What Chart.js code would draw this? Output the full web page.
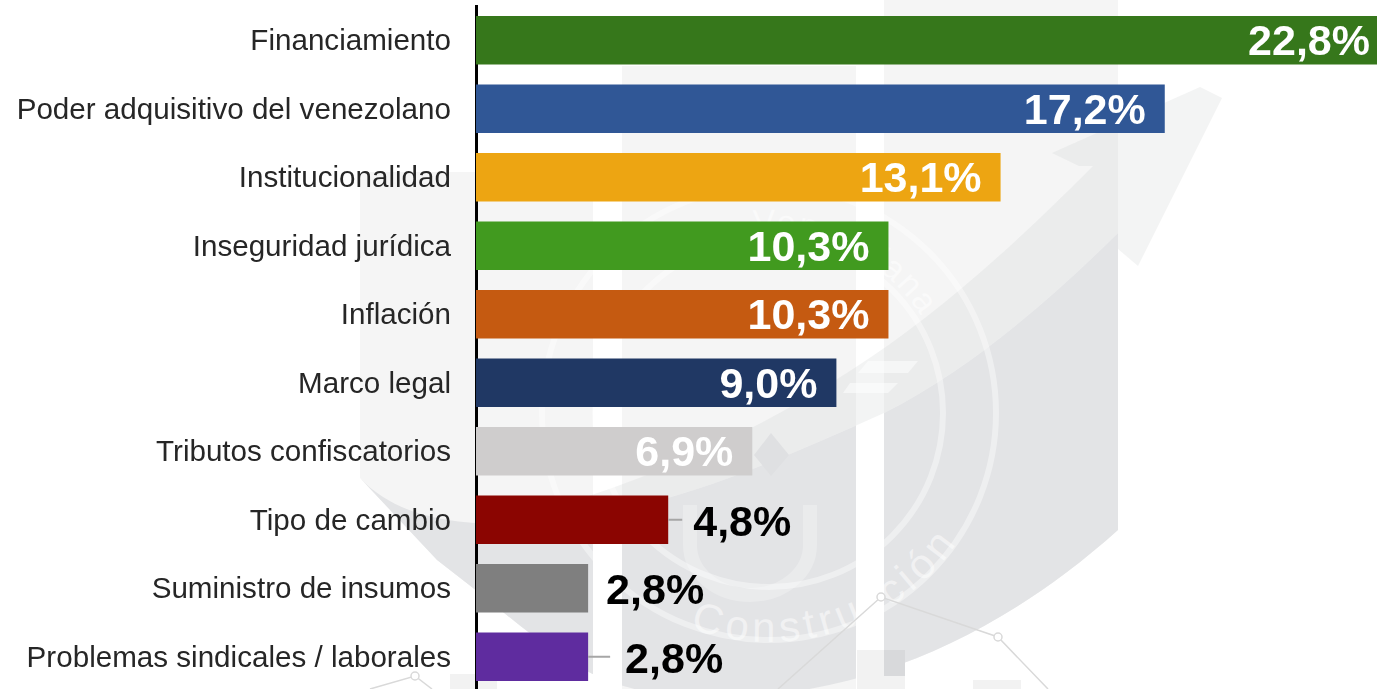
<!DOCTYPE html>
<html lang="es">
<head>
<meta charset="utf-8">
<title>Factores</title>
<script src="https://cdn.jsdelivr.net/npm/chart.js@4/dist/chart.umd.js"></script>
<style>
    html, body { margin: 0; background: #fff; overflow: hidden; }
    #wrap { position: relative; width: 1377px; height: 689px; overflow: hidden; }
    #mark { position: absolute; left: 0; top: 0; }
    #chart { position: absolute; left: 0; top: 0; }
</style>
</head>
<body>
<div id="wrap">
    <!-- watermark behind the chart -->
    <svg id="mark" width="1377" height="689" viewBox="0 0 1377 689">
        <defs>
            <clipPath id="cols">
                <rect x="360" y="172" width="233" height="517"/>
                <rect x="622" y="66" width="234" height="623"/>
                <rect x="884" y="0" width="234" height="689"/>
            </clipPath>
            <path id="arcTop" d="M 753 234 A 180 180 0 0 1 943 366" fill="none"/>
            <path id="arcBottom" d="M 690 628 A 229 229 0 0 0 975 512" fill="none"/>
        </defs>
        <g fill="#f5f5f5">
            <rect x="360" y="172" width="233" height="517"/>
            <rect x="622" y="66" width="234" height="623"/>
            <rect x="884" y="0" width="234" height="689"/>
        </g>
        <!-- white below the sweep, the columns stop there -->
        <path fill="#fff" d="M360 478 L437 560 L473 588 C520 625 570 670 620 685 L622 689 L360 689 Z"/>
        <path fill="#fff" d="M884 670 C960 645 1040 600 1118 530 L1118 689 L884 689 Z"/>
        <path fill="#c9cbce" fill-opacity="0.22" d="M1079 166 L1052 153 L1200 87 L1222 98 L1138 266 L1118 249 L1118 233 C1050 300 970 370 884 413 C790 455 700 495 600 515 L560 505 C660 475 760 430 853 369 C930 320 1010 250 1093 166 Z"/>
        <path fill="#e3e4e6" clip-path="url(#cols)" d="M360 478 C400 520 470 535 600 515 C700 495 790 455 884 413 C970 370 1050 300 1118 233 L1118 530 C1040 600 960 645 884 670 C810 695 700 710 620 685 C570 670 520 625 473 588 L437 560 Z"/>
        <rect x="450" y="674" width="47" height="15" fill="#f2f2f2"/>
        <rect x="857" y="650" width="48" height="39" fill="#f2f2f2"/>
        <rect x="884" y="650" width="21" height="26" fill="#d8d9db"/>
        <rect x="973" y="680" width="48" height="9" fill="#f2f2f2"/>
        <g fill="none" stroke="#fff" stroke-opacity="0.4">
            <circle cx="769" cy="413" r="227" stroke-width="6"/>
            <circle cx="769" cy="413" r="174" stroke-width="6"/>
        </g>
        <path d="M690 505 L690 545 A60 50 0 0 0 810 545 L810 505" fill="none" stroke="#fff" stroke-opacity="0.25" stroke-width="14"/>
        <g fill="#fff" fill-opacity="0.5">
            <polygon points="868,361 918,361 908,373 858,373"/>
            <polygon points="850,383 898,383 888,393 843,393"/>
        </g>
        <polygon points="771,433 789,455 771,476 754,455" fill="#dfe0e2"/>
        <g font-family="Liberation Sans" fill="#fff" fill-opacity="0.5">
            <text font-size="34" letter-spacing="2"><textPath href="#arcTop">Venezolana</textPath></text>
            <text font-size="42" letter-spacing="5"><textPath href="#arcBottom">Construcción</textPath></text>
        </g>
        <g fill="none" stroke="#d9d9d9" stroke-width="1.5">
            <path d="M778 689 L881 597 L998 637 L1048 689"/>
            <path d="M370 689 L415 676 L432 689"/>
            <circle cx="881" cy="597" r="4" fill="#fff"/>
            <circle cx="998" cy="637" r="4" fill="#fff"/>
            <circle cx="415" cy="676" r="4" fill="#fff"/>
        </g>
    </svg>
    <canvas id="chart" width="1377" height="692"></canvas>
</div>
<script>
const categories = [
    'Financiamiento',
    'Poder adquisitivo del venezolano',
    'Institucionalidad',
    'Inseguridad jurídica',
    'Inflación',
    'Marco legal',
    'Tributos confiscatorios',
    'Tipo de cambio',
    'Suministro de insumos',
    'Problemas sindicales / laborales'
];
const shares = [22.8, 17.2, 13.1, 10.3, 10.3, 9.0, 6.9, 4.8, 2.8, 2.8];
const barColors = ['#36771b', '#305796', '#eda512', '#419a1f', '#c55a11', '#203864', '#cfcdcd', '#8b0501', '#7f7f7f', '#5f2c9f'];

const valueLabels = {
    id: 'valueLabels',
    afterDatasetsDraw(chart, args, opts) {
        const ctx = chart.ctx;
        const bars = chart.getDatasetMeta(0).data;
        ctx.save();
        ctx.font = opts.font;
        ctx.textBaseline = 'middle';
        bars.forEach((bar, i) => {
            const text = shares[i].toFixed(1).replace('.', ',') + '%';
            const outside = opts.outside[i];
            if (outside) {
                if (outside.leader) {
                    ctx.strokeStyle = '#a6a6a6';
                    ctx.lineWidth = 2;
                    ctx.beginPath();
                    ctx.moveTo(bar.x, bar.y);
                    ctx.lineTo(bar.x + outside.leader, bar.y);
                    ctx.stroke();
                }
                ctx.fillStyle = '#000';
                ctx.textAlign = 'left';
                ctx.fillText(text, bar.x + outside.gap, bar.y + 4);
            } else {
                ctx.fillStyle = '#fff';
                ctx.textAlign = 'right';
                ctx.fillText(text, bar.x - opts.insideGap, bar.y + 3);
            }
        });
        ctx.restore();
    }
};

new Chart(document.getElementById('chart'), {
    type: 'bar',
    data: {
        labels: categories,
        datasets: [{
            data: shares,
            backgroundColor: barColors,
            barPercentage: 0.71,
            categoryPercentage: 1
        }]
    },
    plugins: [valueLabels],
    options: {
        indexAxis: 'y',
        responsive: false,
        animation: false,
        layout: { padding: { top: 6, bottom: 1, left: 0, right: 0 } },
        plugins: {
            legend: { display: false },
            tooltip: { enabled: false },
            valueLabels: {
                font: 'bold 43px "Liberation Sans"',
                insideGap: 19,
                outside: {
                    7: { gap: 25, leader: 14 },
                    8: { gap: 18, leader: 0 },
                    9: { gap: 37, leader: 22 }
                }
            }
        },
        scales: {
            x: { display: false, min: 0, max: 22.5 },
            y: {
                afterFit(scale) {
                    // tick padding would otherwise also push the plot in from top and bottom
                    scale.width = 476;
                    scale.paddingTop = 0;
                    scale.paddingBottom = 0;
                },
                grid: { display: false, drawTicks: false },
                border: { display: true, color: '#000', width: 3 },
                ticks: {
                    color: '#262626',
                    padding: 25,
                    labelOffset: 2,
                    autoSkip: false,
                    font: { family: '"Liberation Sans"', size: 29.6 }
                }
            }
        }
    }
});
</script>
</body>
</html>
